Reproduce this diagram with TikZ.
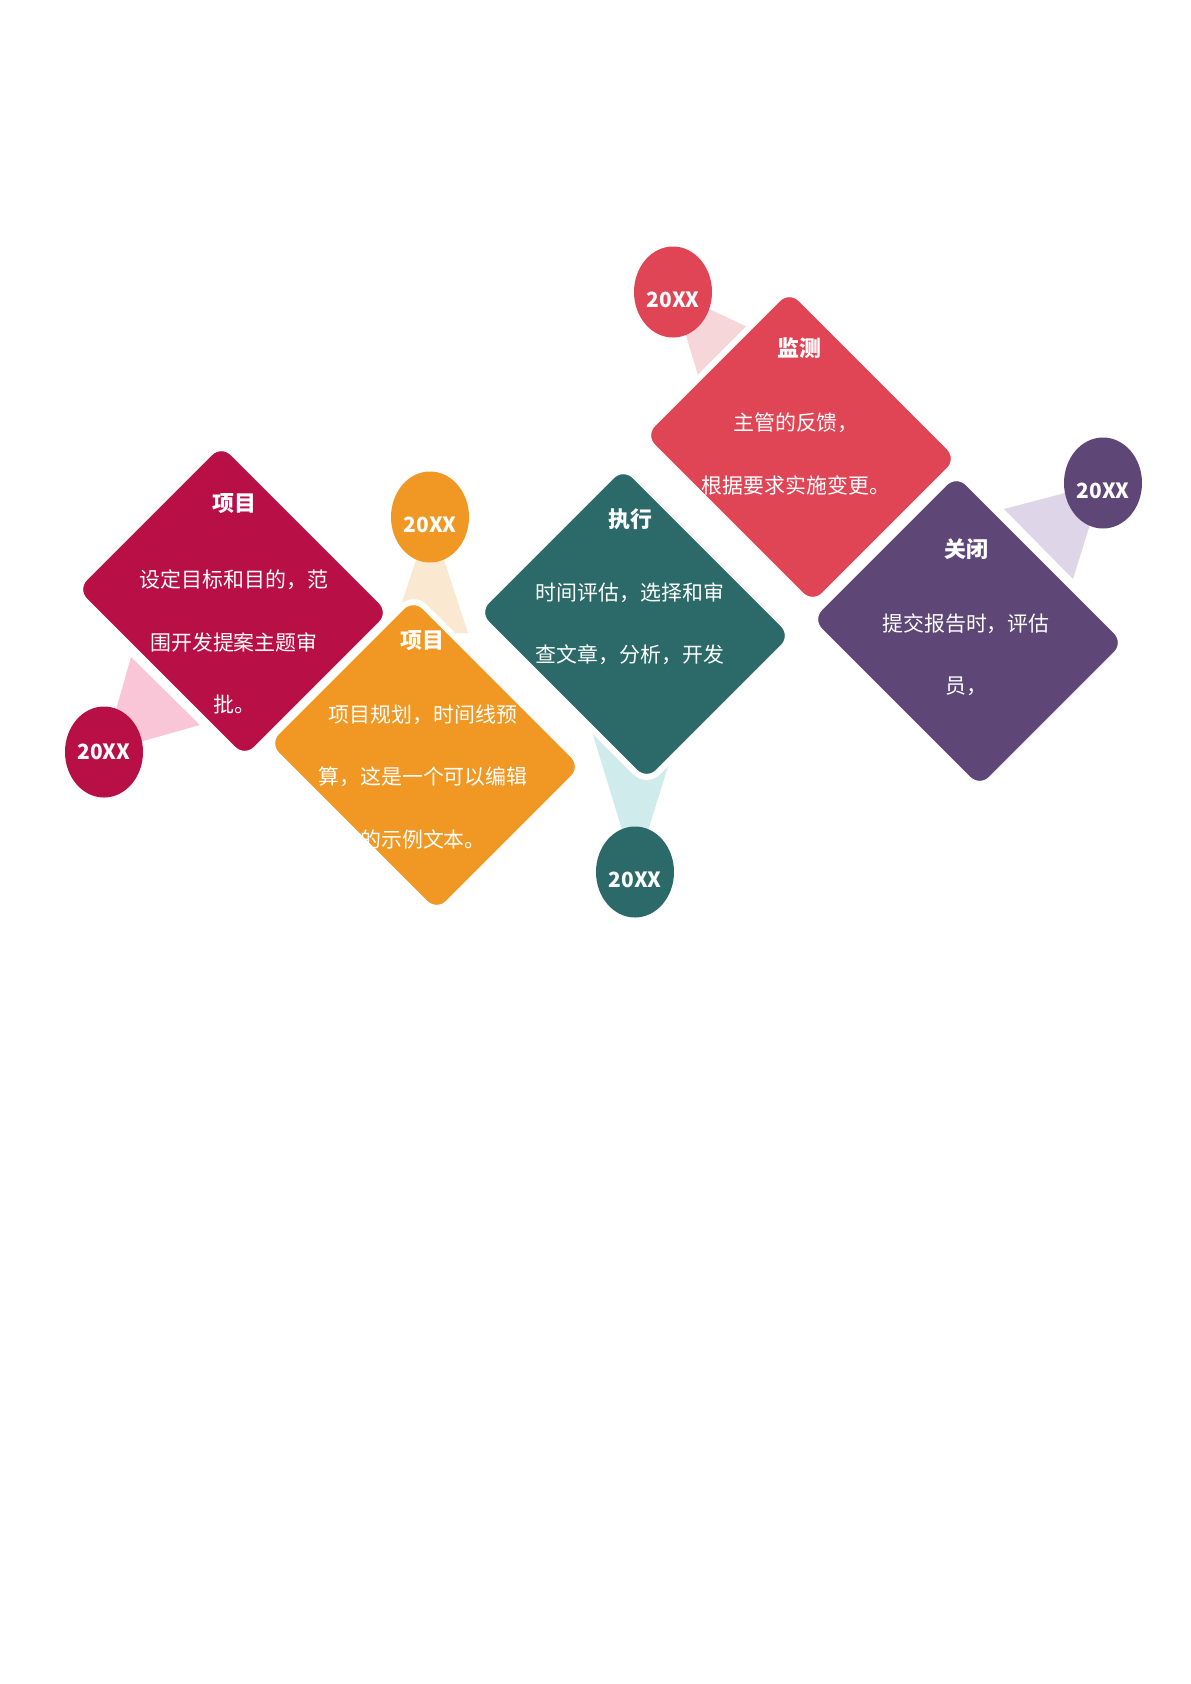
\documentclass[tikz,border=0pt]{standalone}
\usepackage{fontspec}
\setmainfont{Noto Sans CJK SC}
\usetikzlibrary{shapes.geometric}

\definecolor{phaseA}{HTML}{B80F47}
\definecolor{phaseB}{HTML}{F09823}
\definecolor{phaseC}{HTML}{2C6A6A}
\definecolor{phaseD}{HTML}{E04556}
\definecolor{phaseE}{HTML}{5E4776}
\definecolor{tintA}{HTML}{F9C6D8}
\definecolor{tintB}{HTML}{FAE8D0}
\definecolor{tintC}{HTML}{CFEBEC}
\definecolor{tintD}{HTML}{F7D6DA}
\definecolor{tintE}{HTML}{DED6E8}

\begin{document}
\begin{tikzpicture}[
                x=0.5bp,y=-0.5bp,
                phase/.style={rectangle,rotate=-45,rounded corners=8bp,minimum width=121bp,minimum height=104.5bp,inner sep=0pt,draw=white,line width=3bp},
                year/.style={ellipse,minimum width=39bp,minimum height=45.5bp,inner sep=0pt},
                yeartext/.style={text=white,font=\bfseries\fontsize{10.5}{13}\selectfont},
                title/.style={text=white,font=\bfseries\fontsize{11}{13}\selectfont},
                body/.style={text=white,align=center,font=\fontsize{10.5}{31.25}\selectfont}]

                    \useasboundingbox (0,0) rectangle (1191,1684);

                    % pins of the year circles
                    \coordinate (PinA) at (104,752);
                    \coordinate (PinB) at (430,517);
                    \coordinate (PinC) at (635,872);
                    \coordinate (PinD) at (673,292);
                    \coordinate (PinE) at (1103,483);

                    % tinted wedges
                    \coordinate (BaseA1) at (131,657);
                    \coordinate (BaseA2) at (200,725);
                    \coordinate (BaseB1) at (392,633);
                    \coordinate (BaseB2) at (468,633);
                    \coordinate (BaseC1) at (593,735);
                    \coordinate (BaseC2) at (678,735);
                    \coordinate (BaseD1) at (790,347);
                    \coordinate (BaseD2) at (712,422);
                    \coordinate (BaseE1) at (1004,509);
                    \coordinate (BaseE2) at (1073,579);

                    \fill[tintA] (PinA) -- (BaseA1) -- (BaseA2) -- cycle;
                    \fill[tintB] (PinB) -- (BaseB1) -- (BaseB2) -- cycle;
                    \fill[tintC] (PinC) -- (BaseC1) -- (BaseC2) -- cycle;
                    \fill[tintD] (PinD) -- (BaseD1) -- (BaseD2) -- cycle;
                    \fill[tintE] (PinE) -- (BaseE1) -- (BaseE2) -- cycle;

                    % year circles
                    \node[year,fill=phaseA] (YearA) at (PinA) {};
                    \node[year,fill=phaseB] (YearB) at (PinB) {};
                    \node[year,fill=phaseC] (YearC) at (PinC) {};
                    \node[year,fill=phaseD] (YearD) at (PinD) {};
                    \node[year,fill=phaseE] (YearE) at (PinE) {};

                    \node[yeartext] (YearTextA) at (YearA.center) {20XX};
                    \node[yeartext] (YearTextB) at ([yshift=-4bp]YearB.center) {20XX};
                    \node[yeartext] (YearTextC) at ([yshift=-4bp]YearC.center) {20XX};
                    \node[yeartext] (YearTextD) at ([yshift=-4bp]YearD.center) {20XX};
                    \node[yeartext] (YearTextE) at ([yshift=-4bp]YearE.center) {20XX};

                    % 1
                    \node[phase,fill=phaseA] (PhaseA) at (233,601) {};
                    \node[title] (TitleA) at (234,504) {项目};
                    \node[body] (TextA) at (234,642) {设定目标和目的，范\\围开发提案主题审\\批。};

                    % 2
                    \node[phase,fill=phaseB] (PhaseB) at (425,755) {};
                    \node[title] (TitleB) at (422,641) {项目};
                    \node[body] (TextB) at (423,777) {项目规划，时间线预\\算，这是一个可以编辑\\的示例文本。};

                    % 3
                    \node[phase,fill=phaseC] (PhaseC) at (635,624) {};
                    \node[title] (TitleC) at (630,519) {执行};
                    \node[body] (TextC) at (630,624) {时间评估，选择和审\\查文章，分析，开发};

                    % 4
                    \node[phase,fill=phaseD] (PhaseD) at (801,447) {};
                    \node[title] (TitleD) at (799,348) {监测};
                    \node[body] (TextD) at (796,454) {主管的反馈，\\根据要求实施变更。};

                    % 5
                    \node[phase,fill=phaseE] (PhaseE) at (968,631) {};
                    \node[title] (TitleE) at (966,549) {关闭};
                    \node[body] (TextE) at (966,655) {提交报告时，评估\\员，};

\end{tikzpicture}
\end{document}
